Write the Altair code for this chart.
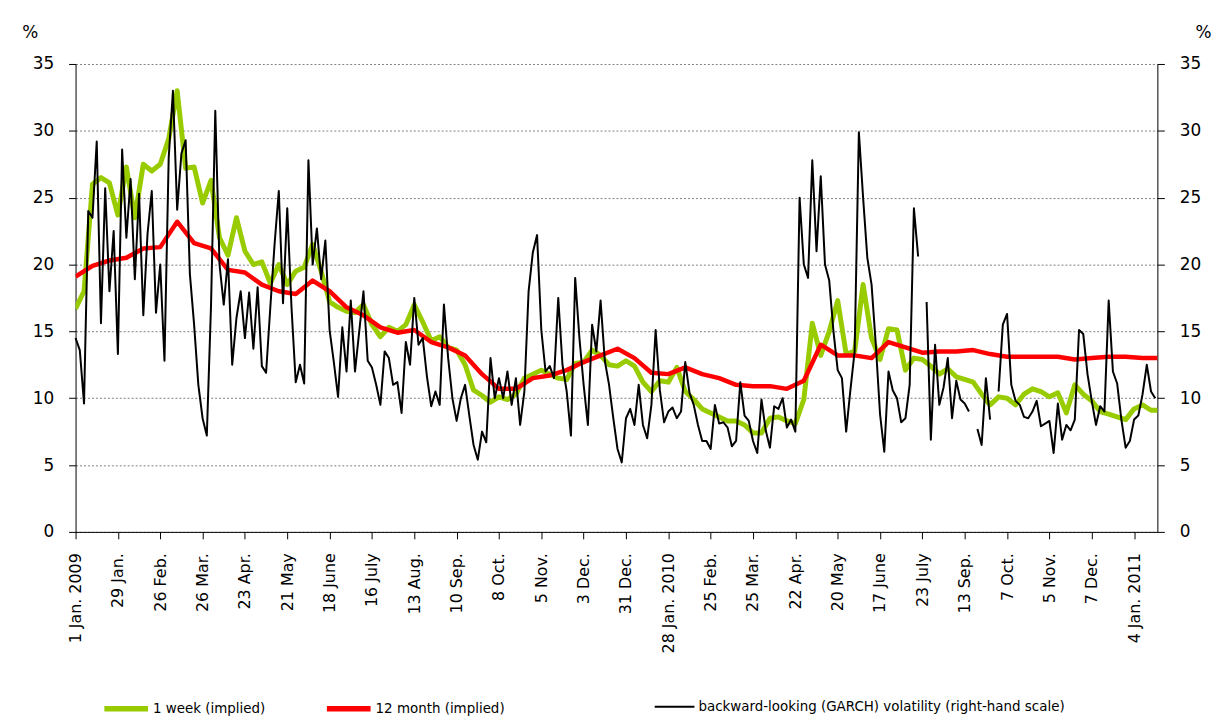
import altair as alt
import pandas as pd

FONT = "DejaVu Sans"

# x tick labels (one every 20 business days; index step in data = 2 business days)
x_labels = ["1 Jan. 2009", "29 Jan.", "26 Feb.", "26 Mar.", "23 Apr.", "21 May",
            "18 June", "16 July", "13 Aug.", "10 Sep.", "8 Oct.", "5 Nov.", "3 Dec.",
            "31 Dec.", "28 Jan. 2010", "25 Feb.", "25 Mar.", "22 Apr.", "20 May",
            "17 June", "23 July", "13 Sep.", "7 Oct.", "5 Nov.", "7 Dec.", "4 Jan. 2011"]

series_names = ["1 week (implied)", "12 month (implied)",
                "backward-looking (GARCH) volatility (right-hand scale)"]

# backward-looking GARCH volatility, one value per index step (None = gap)
black_vals = [
    14.5, 13.6, 9.6, 24, 23.5, 29.2, 15.6, 25.7, 18, 22.5,
    13.3, 28.6, 22, 26.4, 18.9, 25.3, 16.2, 22.3, 25.5, 16.4,
    20, 12.8, 28, 33, 24.1, 28.3, 29.3, 19.3, 15.5, 11,
    8.5, 7.2, 17, 31.5, 20, 17, 20.4, 12.5, 16, 18,
    14.5, 17.9, 13.7, 18.3, 12.4, 11.9, 16.8, 21.5, 25.5, 17.1,
    24.2, 16.8, 11.2, 12.5, 11.1, 27.8, 20, 22.7, 18.9, 21.8,
    15.1, 12.7, 10.1, 15.3, 12, 17.3, 12, 15, 18, 12.8,
    12.3, 11, 9.5, 13.5, 13, 11, 11.2, 8.9, 14.2, 12.5,
    17.5, 14, 14.5, 11.6, 9.4, 10.5, 9.5, 17, 13, 10,
    8.3, 10, 11, 8.7, 6.5, 5.4, 7.5, 6.7, 13, 10,
    11.5, 10, 12, 9.5, 11.5, 8, 10.5, 18, 20.9, 22.2,
    15.1, 12, 12.4, 11.5, 17.5, 12.5, 10.5, 7.2, 19, 14.5,
    11, 8, 15.5, 13.5, 17.3, 12.8, 11, 8.5, 6.2, 5.2,
    8.5, 9.2, 8, 11, 8, 7, 9.5, 15.1, 10.6, 8.2,
    9, 9.3, 8.5, 9, 12.7, 10.4, 9.5, 8, 6.8, 6.8,
    6.2, 9.5, 8.1, 8.2, 7.8, 6.4, 6.8, 11.2, 8.7, 8.3,
    6.8, 5.9, 9.9, 7.6, 6.3, 9.4, 9.2, 10, 7.8, 8.4,
    7.5, 25, 20, 19, 27.8, 21, 26.6, 20, 18.8, 15,
    12.1, 11.5, 7.5, 10.6, 13.5, 29.9, 25, 20.5, 18.5, 14,
    8.8, 6, 12, 10.6, 10, 8.2, 8.5, 11, 24.2, 20.6,
    None, 17.2, 6.9, 14, 9.5, 10.8, 13, 8.5, 11.3, 9.9,
    9.6, 9, None, 7.7, 6.5, 11.5, 8.4, None, 10.5, 15.5,
    16.3, 11, 9.8, 9.5, 8.6, 8.5, 9, 9.8, 7.9, 8.1,
    8.3, 5.9, 9.6, 6.9, 8, 7.6, 8.4, 15.1, 14.8, 11.8,
    9.8, 8, 9.4, 9, 17.3, 12, 11.1, 8.4, 6.3, 6.8,
    8.4, 8.7, 10.3, 12.5, 10.5, 10,
]

# 1 week implied volatility, every 2nd index step
green_vals = [
    16.7, 18, 26, 26.5, 26.1, 23.7, 27.3, 23.5, 27.5, 27,
    27.5, 29.4, 33, 27.2, 27.3, 24.6, 26.3, 22, 20.7, 23.5,
    21, 20, 20.2, 18.6, 20, 18.5, 19.5, 19.8, 21.5, 19.5,
    17.2, 16.8, 16.5, 16.4, 17, 15.5, 14.6, 15.3, 15, 15.5,
    17, 15.7, 14.3, 14.6, 13.8, 13.6, 12.5, 10.6, 10.2, 9.7,
    10.1, 9.9, 10.3, 11.5, 11.8, 12.1, 11.8, 11.5, 11.4, 12.6,
    12.7, 13.6, 13.2, 12.5, 12.4, 12.8, 12.4, 11.2, 10.5, 11.3,
    11.2, 12.3, 10.5, 9.9, 9.2, 8.9, 8.6, 8.3, 8.3, 8,
    7.4, 7.4, 8.5, 8.6, 8.3, 8.1, 9.9, 15.6, 13.2, 15,
    17.3, 13.3, 13.5, 18.5, 14.5, 12.9, 15.2, 15.1, 12.1, 13,
    12.9, 12.4, 11.8, 12.2, 11.6, 11.4, 11.2, 10.3, 9.5, 10.1,
    10, 9.5, 10.3, 10.7, 10.5, 10.1, 10.4, 8.9, 11, 10.3,
    9.8, 9, 8.8, 8.6, 8.4, 9.2, 9.5, 9.1, 9.1,
]

# 12 month implied volatility, every 4th index step
red_vals = [
    19.1, 19.9, 20.3, 20.5, 21.2, 21.3, 23.2, 21.6, 21.2, 19.6,
    19.4, 18.5, 18, 17.8, 18.8, 18, 16.8, 16.2, 15.3, 14.9,
    15.1, 14.2, 13.8, 13.2, 11.8, 10.7, 10.7, 11.5, 11.7, 12.1,
    12.7, 13.2, 13.7, 13.0, 11.9, 11.8, 12.3, 11.8, 11.5, 11,
    10.9, 10.9, 10.7, 11.3, 14, 13.2, 13.2, 13, 14.2, 13.8,
    13.4, 13.5, 13.5, 13.6, 13.3, 13.1, 13.1, 13.1, 13.1, 12.9,
    13, 13.1, 13.1, 13, 13,
]

green_df = pd.DataFrame({"i": [k * 2 for k in range(len(green_vals))],
                         "v": green_vals, "s": series_names[0]})
red_df = pd.DataFrame({"i": [k * 4 for k in range(len(red_vals))],
                       "v": red_vals, "s": series_names[1]})

rows = []
seg = 0
for i, v in enumerate(black_vals):
    if v is None:
        seg += 1
        continue
    rows.append({"i": i, "v": v, "seg": seg, "s": series_names[2]})
black_df = pd.DataFrame(rows)

label_expr = "[" + ",".join("'" + s + "'" for s in x_labels) + "][round(datum.value / 10)]"

x_enc = alt.X(
    "i:Q",
    scale=alt.Scale(domain=[0, 255.5], nice=False, zero=False),
    axis=alt.Axis(values=list(range(0, 251, 10)), labelExpr=label_expr,
                  labelAngle=270, labelAlign="right", labelBaseline="middle",
                  labelFontSize=16, labelFont=FONT, labelColor="black",
                  labelPadding=14, labelOverlap=False, labelFlush=False,
                  tickSize=7, tickColor="black", domainColor="black",
                  grid=False, title=None),
)

y_scale = alt.Scale(domain=[0, 35], nice=False, zero=True)

def y_axis(orient, grid, title_x):
    return alt.Axis(values=list(range(0, 36, 5)), orient=orient, grid=grid,
                    gridColor="#7f7f7f", gridDash=[2, 2], gridWidth=1,
                    tickSize=7, tickColor="black", domainColor="black",
                    labelFontSize=17, labelFont=FONT, labelColor="black",
                    labelPadding=15, title="%", titleAngle=0, titleX=title_x,
                    titleY=-23, titleAlign="center", titleBaseline="bottom",
                    titleFontSize=17, titleFont=FONT, titleFontWeight="normal",
                    titleColor="black")

legend_a = alt.Legend(orient="none", legendX=26, legendY=624, direction="horizontal",
                      title=None, symbolType="stroke", symbolStrokeWidth=5.5,
                      symbolSize=1936, labelFontSize=13.5, labelFont=FONT,
                      labelColor="black", columnPadding=50, labelOffset=2,
                      labelLimit=0, padding=0)
color_a = alt.Color("s:N", scale=alt.Scale(domain=series_names[:2],
                                           range=["#99CC00", "#FF0000"]),
                    legend=legend_a)

y_left = alt.Y("v:Q", scale=y_scale, axis=y_axis("left", True, -46))

green = alt.Chart(green_df).mark_line(strokeWidth=5, clip=True, strokeJoin="round").encode(
    x=x_enc, y=y_left, color=color_a)
red = alt.Chart(red_df).mark_line(strokeWidth=4.5, clip=True, strokeJoin="round").encode(
    x=x_enc, y=y_left, color=color_a)

legend_b = alt.Legend(orient="none", legendX=582, legendY=626, direction="horizontal",
                      title=None, symbolType="stroke", symbolStrokeWidth=2,
                      symbolSize=1600, labelFontSize=13.5, labelFont=FONT,
                      labelColor="black", labelOffset=3, labelLimit=0, padding=0)
black = alt.Chart(black_df).mark_line(strokeWidth=2, strokeJoin="round").encode(
    x=x_enc,
    y=alt.Y("v:Q", scale=y_scale, axis=y_axis("right", False, 46)),
    color=alt.Color("s:N", scale=alt.Scale(domain=[series_names[2]], range=["#000000"]),
                    legend=legend_b),
    detail="seg:N",
)

chart = alt.layer(alt.layer(green, red), black).resolve_scale(
    y="independent", color="independent"
).properties(
    width=1089, height=471,
    autosize=alt.AutoSizeParams(type="none"),
    padding={"left": 68, "top": 54, "right": 56, "bottom": 185},
    background="white",
).configure_view(stroke=None)

chart.save("out.html", embed_options={"renderer": "svg", "actions": False})
